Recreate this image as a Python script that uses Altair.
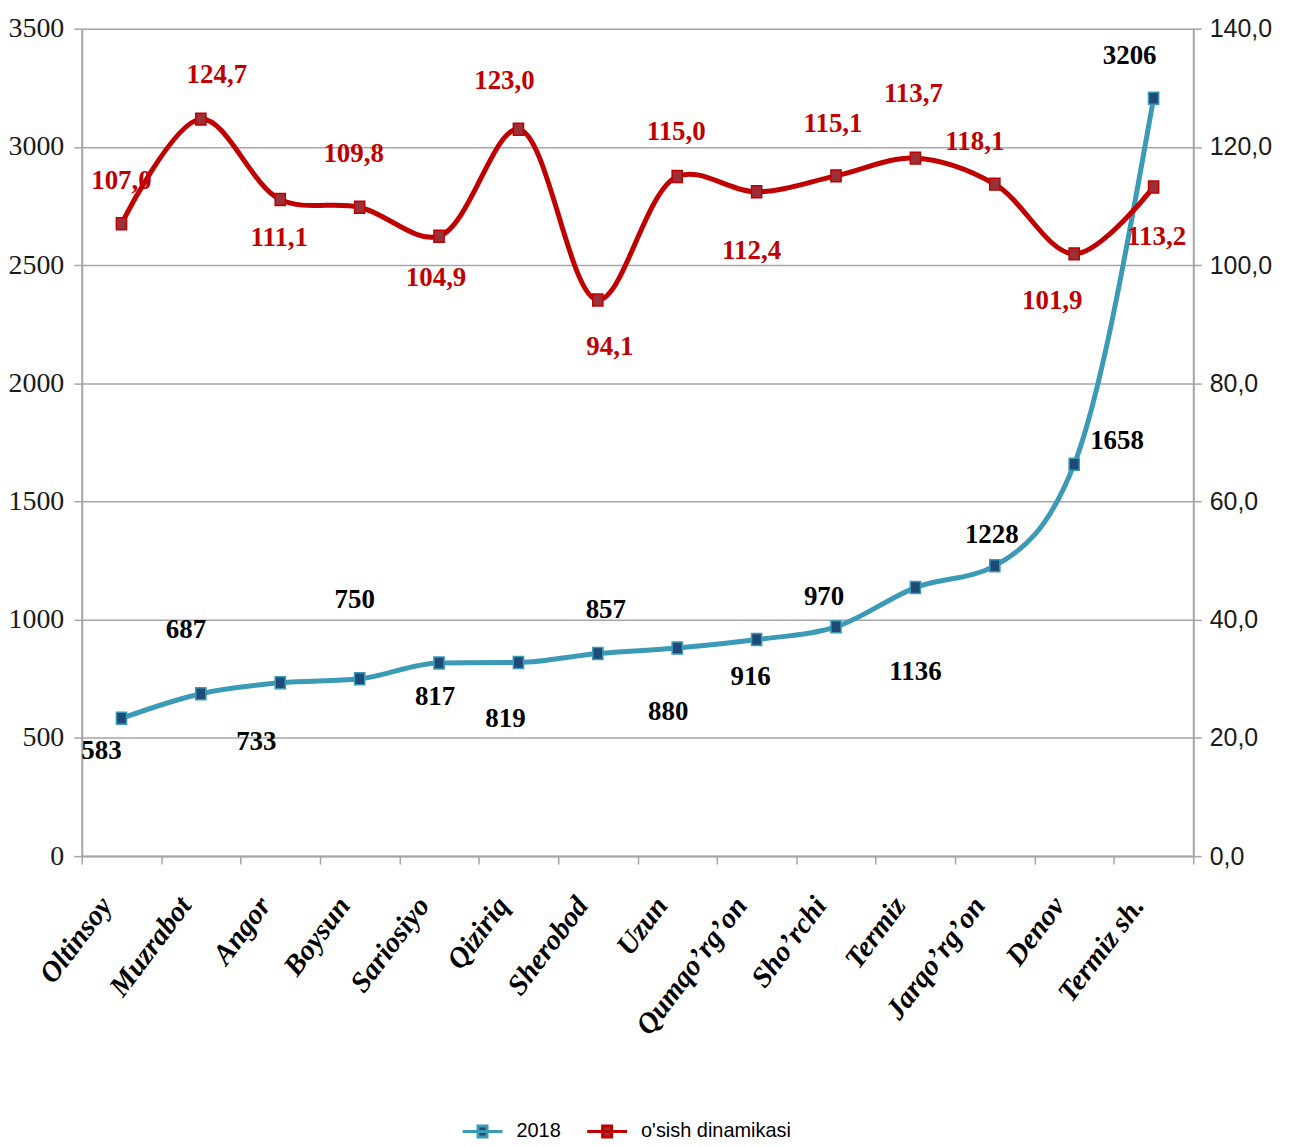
import altair as alt
import pandas as pd

districts = ["Oltinsoy", "Muzrabot", "Angor", "Boysun", "Sariosiyo", "Qiziriq", "Sherobod",
             "Uzun", "Qumqo’rg’on", "Sho’rchi", "Termiz", "Jarqo’rg’on", "Denov", "Termiz sh."]
values_2018 = [583, 687, 733, 750, 817, 819, 857, 880, 916, 970, 1136, 1228, 1658, 3206]
growth = [107.0, 124.7, 111.1, 109.8, 104.9, 123.0, 94.1, 115.0, 112.4, 115.1, 118.1, 113.7, 101.9, 113.2]
growth_labels = ["107,0", "124,7", "111,1", "109,8", "104,9", "123,0", "94,1",
                 "115,0", "112,4", "115,1", "113,7", "118,1", "101,9", "113,2"]
left_ticks = [0, 500, 1000, 1500, 2000, 2500, 3000, 3500]
right_ticks = [0, 20, 40, 60, 80, 100, 120, 140]
series_names = ["2018", "o'sish dinamikasi"]

# label placement (pixels) relative to each point
blue_dx = [-20, -15, -24, -5, -4, -13, 8, -9, -6, -12, 0, -3, 43, -24]
blue_dy = [33, -64, 59, -79, 34, 57, -44, 64, 38, -30, 85, -31, -23, -42]
red_dx = [0, 16, -1, -6, -3, -14, 12, -1, -5, -3, -2, -20, -22, 3]
red_dy = [-43, -44, 39, -53, 42, -48, 47, -45, 59, -52, -64, -42, 47, 50]

df = pd.DataFrame({
    "district": districts,
    "v2018": values_2018,
    "growth": growth,
    "glabel": growth_labels,
    "bdx": blue_dx, "bdy": blue_dy, "rdx": red_dx, "rdy": red_dy,
    "s1": [series_names[0]] * len(districts),
    "s2": [series_names[1]] * len(districts),
})

TEAL = "#3b9ab6"
NAVY = "#1f4a78"
RED = "#c00000"
MAROON = "#9c3038"
GRAY = "#a6a6a6"
SERIF = "Liberation Serif"

x_enc = alt.X("district:N", sort=districts,
              scale=alt.Scale(type="band", paddingInner=0, paddingOuter=0),
              axis=alt.Axis(title=None, labelAngle=-53, labelAlign="right", labelBaseline="middle",
                            labelFont=SERIF, labelFontSize=29, labelFontWeight="bold",
                            labelFontStyle="italic", labelColor="#000", labelPadding=36,
                            labelOffset=-16,
                            tickBand="extent", tickColor=GRAY, tickSize=8, tickWidth=1.5,
                            domainColor=GRAY, domainWidth=2, grid=False))

y_left = alt.Scale(domain=[0, 3500], nice=False, zero=True)
y_right = alt.Scale(domain=[0, 140], nice=False, zero=True)

left_axis = alt.Axis(title=None, values=left_ticks, format="d", grid=True, gridColor=GRAY,
                     gridWidth=1.5, domainColor=GRAY, domainWidth=2, tickColor=GRAY, tickSize=8,
                     tickWidth=1.5, labelFont=SERIF, labelFontSize=28,
                     labelColor="#1a1a1a", labelPadding=10)
right_axis = alt.Axis(title=None, orient="right", values=right_ticks, grid=False,
                      domainColor=GRAY, domainWidth=2, tickColor=GRAY, tickSize=8, tickWidth=1.5,
                      labelExpr="replace(format(datum.value, '.1f'), '.', ',')",
                      labelFont="Liberation Sans", labelFontSize=25,
                      labelColor="#1a1a1a", labelPadding=8)

fill_scale = alt.Scale(domain=series_names, range=[NAVY, MAROON])
stroke_scale = alt.Scale(domain=series_names, range=[TEAL, RED])
legend = alt.Legend(title=None, orient="none", legendX=392, legendY=1096, direction="horizontal",
                    symbolType="M-4,0H4M-0.9,-1.1H0.9V1.1H-0.9Z",
                    symbolStrokeWidth=3, labelFont="Liberation Sans",
                    labelFontSize=20, labelColor="#000", columnPadding=20, labelOffset=24,
                    labelLimit=400)

marker = "M-0.85,-1H0.85V1H-0.85Z"

base = alt.Chart(df)

blue_line = base.mark_line(interpolate="monotone", color=TEAL, strokeWidth=5).encode(
    x=x_enc, y=alt.Y("v2018:Q", scale=y_left, axis=left_axis))
blue_pts = base.mark_point(shape=marker, filled=True, size=144, strokeWidth=1.5, opacity=1).encode(
    x=x_enc, y=alt.Y("v2018:Q", scale=y_left, axis=left_axis),
    fill=alt.Fill("s1:N", scale=fill_scale, legend=legend),
    stroke=alt.Stroke("s1:N", scale=stroke_scale, legend=legend))
blue_txt = base.mark_text(font=SERIF, fontSize=27, fontWeight="bold", color="#000",
                          baseline="middle", align="center",
                          dx={"expr": "datum.bdx"}, dy={"expr": "datum.bdy"}).encode(
    x=x_enc, y=alt.Y("v2018:Q", scale=y_left, axis=left_axis),
    text="v2018:Q")

left = alt.layer(blue_line, blue_pts, blue_txt)

red_line = base.mark_line(interpolate="catmull-rom", color=RED, strokeWidth=5).encode(
    x=x_enc, y=alt.Y("growth:Q", scale=y_right, axis=right_axis))
red_pts = base.mark_point(shape=marker, filled=True, size=144, strokeWidth=1.5, opacity=1).encode(
    x=x_enc, y=alt.Y("growth:Q", scale=y_right, axis=right_axis),
    fill=alt.Fill("s2:N", scale=fill_scale, legend=legend),
    stroke=alt.Stroke("s2:N", scale=stroke_scale, legend=legend))
red_txt = base.mark_text(font=SERIF, fontSize=27, fontWeight="bold", color=RED,
                         baseline="middle", align="center",
                         dx={"expr": "datum.rdx"}, dy={"expr": "datum.rdy"}).encode(
    x=x_enc, y=alt.Y("growth:Q", scale=y_right, axis=right_axis),
    text="glabel:N")

right = alt.layer(red_line, red_pts, red_txt)

chart = alt.layer(left, right).resolve_scale(y="independent").properties(
    width=1115, height=830,
    autosize=alt.AutoSizeParams(type="none"),
    padding={"left": 74, "top": 19, "right": 92, "bottom": 285},
).configure_view(stroke=None).configure(background="white")

chart.save("out.html", embed_options={"renderer": "svg", "actions": False})
